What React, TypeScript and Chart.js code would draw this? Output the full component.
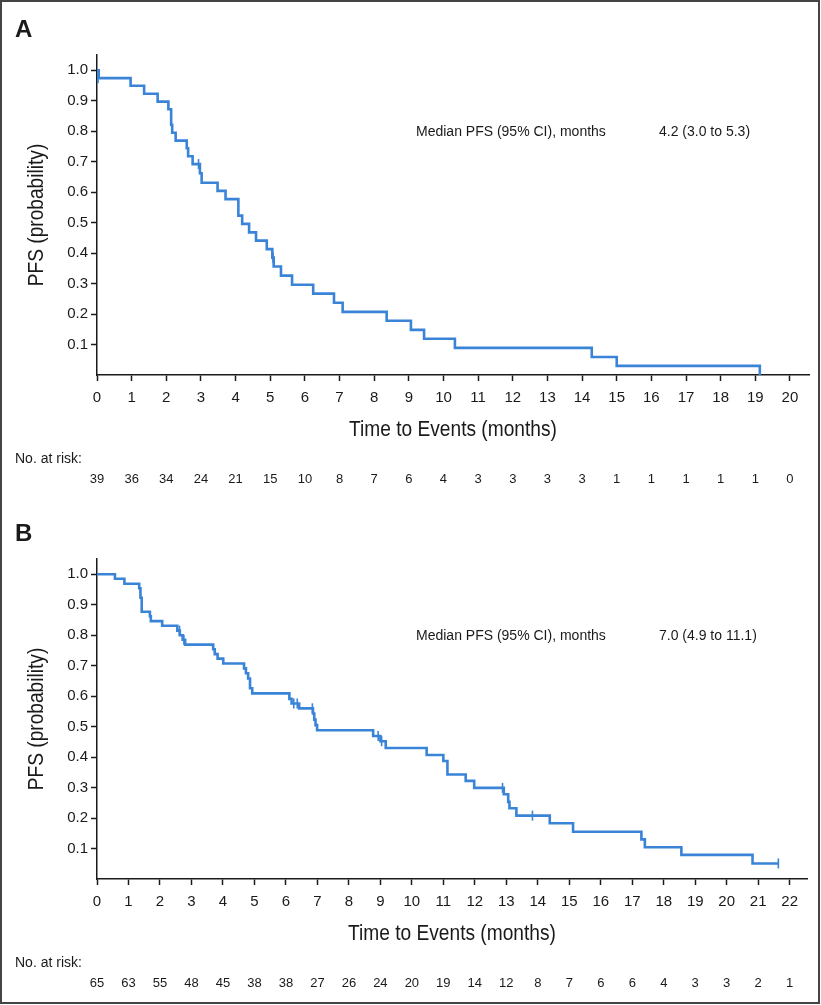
import React, { useEffect, useRef } from 'react';
import { Chart, registerables } from 'chart.js';

Chart.register(...registerables);

const BLUE = '#3A84D8';
const INK = '#1a1a1a';
const TEXT_FONT = "'Liberation Sans', Arial, Helvetica, sans-serif";

// ---------- Panel A data ----------
const timesA = [0, 0.05, 0.97, 1.36, 1.75, 2.06, 2.14, 2.17, 2.27, 2.59, 2.63, 2.76, 2.97, 3.02, 3.48, 3.71, 4.08, 4.19, 4.39, 4.59, 4.9, 5.06, 5.1, 5.31, 5.63, 6.24, 6.84, 7.09, 8.36, 9.06, 9.44, 10.33, 14.28, 15.0, 19.13];
const survA = [1.0, 0.974, 0.949, 0.923, 0.897, 0.872, 0.821, 0.795, 0.769, 0.744, 0.718, 0.692, 0.662, 0.631, 0.604, 0.577, 0.523, 0.496, 0.468, 0.441, 0.413, 0.385, 0.356, 0.326, 0.296, 0.267, 0.237, 0.207, 0.178, 0.148, 0.119, 0.089, 0.059, 0.03, 0.0];
const censorTimesA = [0.03, 2.93, 5.08];
const censorSurvA = [0.974, 0.692, 0.385];
const riskMonthsA = [0, 1, 2, 3, 4, 5, 6, 7, 8, 9, 10, 11, 12, 13, 14, 15, 16, 17, 18, 19, 20];
const riskA = [39, 36, 34, 24, 21, 15, 10, 8, 7, 6, 4, 3, 3, 3, 3, 1, 1, 1, 1, 1, 0];
const xTicksA = [0, 1, 2, 3, 4, 5, 6, 7, 8, 9, 10, 11, 12, 13, 14, 15, 16, 17, 18, 19, 20];
const medianA = '4.2 (3.0 to 5.3)';

// ---------- Panel B data ----------
const timesB = [0, 0.57, 0.87, 1.34, 1.38, 1.42, 1.68, 1.71, 2.07, 2.55, 2.63, 2.72, 2.8, 3.69, 3.74, 3.83, 4.01, 4.67, 4.73, 4.8, 4.86, 4.93, 6.11, 6.18, 6.42, 6.86, 6.9, 6.94, 6.99, 8.77, 9.0, 9.17, 10.47, 11.0, 11.13, 11.71, 11.98, 12.92, 13.06, 13.1, 13.32, 14.38, 15.12, 17.29, 17.4, 18.56, 20.82, 21.64];
const survB = [1.0, 0.985, 0.969, 0.954, 0.923, 0.877, 0.862, 0.846, 0.831, 0.815, 0.8, 0.785, 0.769, 0.754, 0.738, 0.723, 0.707, 0.691, 0.675, 0.658, 0.626, 0.609, 0.591, 0.576, 0.56, 0.543, 0.523, 0.505, 0.488, 0.469, 0.452, 0.43, 0.407, 0.387, 0.343, 0.322, 0.299, 0.278, 0.253, 0.232, 0.208, 0.183, 0.155, 0.13, 0.104, 0.079, 0.051, 0.051];
const censorTimesB = [2.62, 2.76, 6.25, 6.36, 6.84, 8.93, 9.04, 12.88, 13.83, 21.64];
const censorSurvB = [0.815, 0.785, 0.576, 0.576, 0.56, 0.469, 0.452, 0.299, 0.208, 0.051];
const riskMonthsB = [0, 1, 2, 3, 4, 5, 6, 7, 8, 9, 10, 11, 12, 13, 14, 15, 16, 17, 18, 19, 20, 21, 22];
const riskB = [65, 63, 55, 48, 45, 38, 38, 27, 26, 24, 20, 19, 14, 12, 8, 7, 6, 6, 4, 3, 3, 2, 1];
const xTicksB = [0, 1, 2, 3, 4, 5, 6, 7, 8, 9, 10, 11, 12, 13, 14, 15, 16, 17, 18, 19, 20, 21, 22];
const medianB = '7.0 (4.9 to 11.1)';

const yTicks = [0.1, 0.2, 0.3, 0.4, 0.5, 0.6, 0.7, 0.8, 0.9, 1.0];
const MEDIAN_LABEL = 'Median PFS (95% CI), months';
const Y_TITLE = 'PFS (probability)';
const X_TITLE = 'Time to Events (months)';

type PanelProps = {
  letter: string;
  times: number[];
  surv: number[];
  cTimes: number[];
  cSurv: number[];
  riskMonths: number[];
  risk: number[];
  xTicks: number[];
  xMax: number;
  median: string;
  top: number;
  height: number;
  padTop: number;
  padRight: number;
  axisH: number;
};

// condensed-looking text: regular face squeezed horizontally
function narrowText(ctx: CanvasRenderingContext2D, text: string, x: number, y: number, rot: number) {
  ctx.save();
  ctx.translate(x, y);
  ctx.rotate(rot);
  ctx.scale(0.87, 1);
  ctx.font = `22px ${TEXT_FONT}`;
  ctx.textAlign = 'center';
  ctx.textBaseline = 'middle';
  ctx.fillText(text, 0, 0);
  ctx.restore();
}

function Panel(p: PanelProps) {
  const ref = useRef<HTMLCanvasElement>(null);
  useEffect(() => {
    const canvas = ref.current;
    if (!canvas) return;
    const overlay = {
      id: 'overlay' + p.letter,
      afterDraw(chart: any) {
        const { ctx, chartArea: ca, scales } = chart;
        const xs = scales.x;
        ctx.save();
        ctx.fillStyle = INK;
        // panel letter
        ctx.font = `bold 24px ${TEXT_FONT}`;
        ctx.textAlign = 'left';
        ctx.textBaseline = 'alphabetic';
        ctx.fillText(p.letter, 15, ca.top - 18);
        // axis titles
        narrowText(ctx, Y_TITLE, 37, (ca.top + ca.bottom) / 2, -Math.PI / 2);
        narrowText(ctx, X_TITLE, (ca.left + ca.right) / 2, ca.bottom + 55, 0);
        // number at risk
        ctx.textBaseline = 'middle';
        ctx.font = `14px ${TEXT_FONT}`;
        ctx.textAlign = 'left';
        ctx.fillText('No. at risk:', 15, ca.bottom + 84);
        ctx.font = `13px ${TEXT_FONT}`;
        ctx.textAlign = 'center';
        p.risk.forEach((n, i) => {
          ctx.fillText(String(n), xs.getPixelForValue(p.riskMonths[i]), ca.bottom + 104);
        });
        // median annotation
        ctx.font = `14px ${TEXT_FONT}`;
        ctx.textAlign = 'left';
        ctx.fillText(MEDIAN_LABEL, ca.left + 319, ca.top + 77);
        ctx.fillText(p.median, ca.left + 562, ca.top + 77);
        ctx.restore();
      },
    };
    const gridOpts = {
      display: true,
      drawOnChartArea: false,
      drawTicks: true,
      tickLength: 6,
      tickColor: INK,
      tickWidth: 1.5,
    };
    const chart = new Chart(canvas, {
      type: 'line',
      data: {
        datasets: [
          {
            data: p.times.map((t, i) => ({ x: t, y: p.surv[i] })),
            borderColor: BLUE,
            borderWidth: 2.6,
            pointRadius: 0,
            stepped: 'before',
            fill: false,
            tension: 0,
            clip: false,
          } as any,
          {
            data: p.cTimes.map((t, i) => ({ x: t, y: p.cSurv[i] })),
            showLine: false,
            pointStyle: 'line',
            rotation: 90,
            pointRadius: 5,
            borderColor: BLUE,
            backgroundColor: BLUE,
            pointBorderWidth: 1.6,
            borderWidth: 1.6,
          } as any,
        ],
      },
      options: {
        animation: false,
        responsive: false,
        events: [],
        layout: { padding: { top: p.padTop, right: p.padRight, left: 0, bottom: 0 } },
        plugins: { legend: { display: false }, tooltip: { enabled: false } },
        scales: {
          x: {
            type: 'linear',
            min: 0,
            max: p.xMax,
            afterBuildTicks: (s: any) => {
              s.ticks = p.xTicks.map((v) => ({ value: v }));
            },
            afterFit: (s: any) => {
              s.height = p.axisH;
            },
            grid: gridOpts,
            border: { display: true, color: INK, width: 1.5 },
            ticks: {
              color: INK,
              font: { family: TEXT_FONT, size: 15 },
              padding: 8,
              maxRotation: 0,
              autoSkip: false,
            },
          },
          y: {
            type: 'linear',
            min: 0,
            max: 1.05,
            afterBuildTicks: (s: any) => {
              s.ticks = yTicks.map((v) => ({ value: v }));
            },
            afterFit: (s: any) => {
              s.width = 97;
            },
            grid: gridOpts,
            border: { display: true, color: INK, width: 1.5 },
            ticks: {
              color: INK,
              font: { family: TEXT_FONT, size: 15 },
              padding: 3,
              autoSkip: false,
              callback: (v: any) => Number(v).toFixed(1),
            },
          },
        },
      } as any,
      plugins: [overlay],
    });
    return () => chart.destroy();
  }, []);
  return (
    <canvas
      ref={ref}
      width={821}
      height={p.height}
      style={{ position: 'absolute', left: 0, top: p.top, display: 'block' }}
    />
  );
}

export default function App() {
  return (
    <div style={{ position: 'relative', width: 821, height: 1005, background: '#fff', overflow: 'hidden' }}>
      <style>{'body{margin:0;background:#fff;}'}</style>
      <Panel
        letter="A"
        times={timesA}
        surv={survA}
        cTimes={censorTimesA}
        cSurv={censorSurvA}
        riskMonths={riskMonthsA}
        risk={riskA}
        xTicks={xTicksA}
        xMax={20.55}
        median={medianA}
        top={0}
        height={500}
        padTop={55}
        padRight={12}
        axisH={125}
      />
      <Panel
        letter="B"
        times={timesB}
        surv={survB}
        cTimes={censorTimesB}
        cSurv={censorSurvB}
        riskMonths={riskMonthsB}
        risk={riskB}
        xTicks={xTicksB}
        xMax={22.55}
        median={medianB}
        top={500}
        height={505}
        padTop={59}
        padRight={14}
        axisH={126}
      />
      <div
        style={{
          position: 'absolute',
          left: 0,
          top: 0,
          width: 820,
          height: 1004,
          boxSizing: 'border-box',
          border: '2px solid #444',
          pointerEvents: 'none',
        }}
      />
    </div>
  );
}
